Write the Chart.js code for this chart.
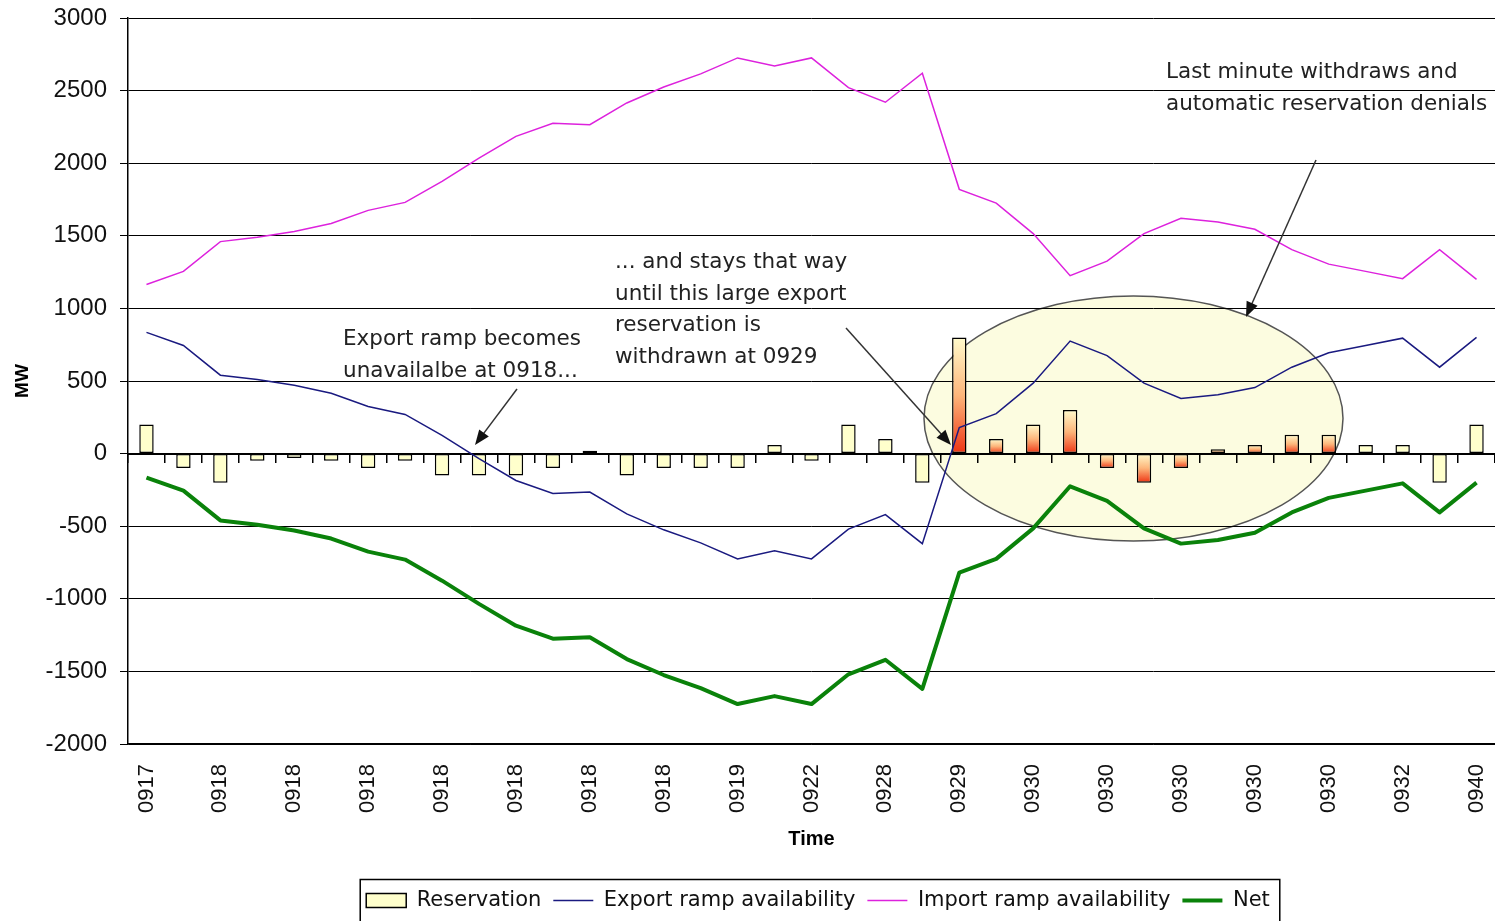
<!DOCTYPE html>
<html><head><meta charset="utf-8">
<script src="https://cdn.jsdelivr.net/npm/chart.js@4"></script>
<style>html,body{margin:0;padding:0;background:#fff;overflow:hidden;}</style>
</head><body>
<canvas id="c" width="1495" height="921"></canvas>
<script>
const LABELS = ['0917','0917','0918','0918','0918','0918','0918','0918','0918','0918','0918','0918','0918','0918','0918','0918','0919','0920','0922','0925','0928','0928','0929','0930','0930','0930','0930','0930','0930','0930','0930','0930','0930','0931','0932','0935','0940'];
const RESERVATION = [200,-100,-200,-50,-30,-50,-100,-50,-150,-150,-150,-100,20,-150,-100,-100,-100,60,-50,200,100,-200,800,100,200,300,-100,-200,-100,30,60,130,130,60,60,-200,200];
const EXPORT_RAMP = [835,745,540,510,470,415,325,270,125,-35,-185,-275,-265,-415,-525,-615,-725,-670,-725,-520,-420,-620,180,275,485,775,675,485,380,405,455,595,695,745,795,595,800];
const IMPORT_RAMP = [1165,1255,1460,1490,1530,1585,1675,1730,1875,2035,2185,2275,2265,2415,2525,2615,2725,2670,2725,2520,2420,2620,1820,1725,1515,1225,1325,1515,1620,1595,1545,1405,1305,1255,1205,1405,1200];
const NET = [-165,-255,-460,-490,-530,-585,-675,-730,-875,-1035,-1185,-1275,-1265,-1415,-1525,-1615,-1725,-1670,-1725,-1520,-1420,-1620,-820,-725,-515,-225,-325,-515,-620,-595,-545,-405,-305,-255,-205,-405,-200];
const Y_TICKS = [-2000,-1500,-1000,-500,0,500,1000,1500,2000,2500,3000];
const HIGHLIGHT = [22,23,24,25,26,27,28,29,30,31,32];

const FONT = "'Liberation Sans', Arial, sans-serif";
const FONT2 = "'DejaVu Sans', Verdana, sans-serif";

function barColor(c) {
  if (c.type !== 'data' || HIGHLIGHT.indexOf(c.dataIndex) < 0) return '#FFFFCC';
  const chart = c.chart, ys = chart.scales && chart.scales.y;
  if (!ys || !chart.chartArea) return '#FFFFCC';
  const p0 = ys.getPixelForValue(0), p1 = ys.getPixelForValue(c.raw);
  const top = Math.min(p0, p1), bot = Math.max(p0, p1);
  const g = chart.ctx.createLinearGradient(0, top, 0, bot + 0.01);
  g.addColorStop(0, '#FFFBCC');
  g.addColorStop(0.5, '#FDB57A');
  g.addColorStop(1, '#EE3414');
  return g;
}

const bgPlugin = {
  id: 'bg',
  beforeDraw(chart) {
    const ctx = chart.ctx;
    ctx.save();
    ctx.fillStyle = '#fff';
    ctx.fillRect(0, 0, chart.width, chart.height);
    ctx.beginPath();
    ctx.ellipse(1133.5, 418.5, 209.5, 122.5, 0, 0, Math.PI * 2);
    ctx.fillStyle = '#FCFCE0';
    ctx.fill();
    ctx.lineWidth = 1.5;
    ctx.strokeStyle = '#555';
    ctx.stroke();
    ctx.restore();
  },
  afterLayout(chart) {
    const lg = chart.legend;
    if (!lg) return;
    const dx = 818 - (lg.left + lg.right) / 2;
    lg.left += dx; lg.right += dx;
  }
};

function arrow(ctx, x1, y1, x2, y2) {
  const a = Math.atan2(y2 - y1, x2 - x1), L = 15, W = 6;
  ctx.beginPath();
  ctx.moveTo(x1, y1);
  ctx.lineTo(x2 - L * 0.8 * Math.cos(a), y2 - L * 0.8 * Math.sin(a));
  ctx.stroke();
  ctx.beginPath();
  ctx.moveTo(x2, y2);
  ctx.lineTo(x2 - L * Math.cos(a) + W * Math.sin(a), y2 - L * Math.sin(a) - W * Math.cos(a));
  ctx.lineTo(x2 - L * Math.cos(a) - W * Math.sin(a), y2 - L * Math.sin(a) + W * Math.cos(a));
  ctx.closePath();
  ctx.fill();
}

const notePlugin = {
  id: 'notes',
  afterDraw(chart) {
    const ctx = chart.ctx;
    ctx.save();
    ctx.font = "21.5px " + FONT2;
    ctx.fillStyle = '#222';
    ctx.textAlign = 'left';
    ctx.textBaseline = 'alphabetic';
    const notes = [
      [343, [345, 377], ['Export ramp becomes', 'unavailalbe at 0918...']],
      [615, [268, 300, 331, 363], ['... and stays that way', 'until this large export', 'reservation is', 'withdrawn at 0929']],
      [1166, [78, 110], ['Last minute withdraws and', 'automatic reservation denials']]
    ];
    notes.forEach(([x, ys, lines]) => lines.forEach((t, k) => ctx.fillText(t, x, ys[k])));
    ctx.strokeStyle = '#333';
    ctx.fillStyle = '#111';
    ctx.lineWidth = 1.5;
    arrow(ctx, 517, 389, 475, 445);
    arrow(ctx, 846, 328, 951, 445);
    arrow(ctx, 1316, 160, 1246, 317);
    // legend frame
    const lg = chart.legend;
    if (lg && lg.legendHitBoxes && lg.legendHitBoxes.length) {
      const hb = lg.legendHitBoxes;
      const x0 = hb[0].left - 6, x1 = hb[hb.length - 1].left + hb[hb.length - 1].width + 10;
      ctx.strokeStyle = '#000';
      ctx.lineWidth = 1.5;
      ctx.strokeRect(x0, lg.top + 1.5, x1 - x0, 60);
    }
    ctx.restore();
  }
};

new Chart(document.getElementById('c'), {
  type: 'bar',
  data: {
    labels: LABELS,
    datasets: [
      { type: 'bar', label: 'Reservation', data: RESERVATION, backgroundColor: barColor, borderColor: '#000', borderWidth: 1.5, borderSkipped: false, barPercentage: 0.39, categoryPercentage: 1, order: 2 },
      { type: 'line', label: 'Export ramp availability', data: EXPORT_RAMP, borderColor: '#1A1A80', borderWidth: 1.5, pointRadius: 0, tension: 0, order: 1 },
      { type: 'line', label: 'Import ramp availability', data: IMPORT_RAMP, borderColor: '#DD22DD', borderWidth: 1.5, pointRadius: 0, tension: 0, order: 1 },
      { type: 'line', label: 'Net', data: NET, borderColor: '#0A820A', borderWidth: 4, borderJoinStyle: 'round', pointRadius: 0, tension: 0, order: 0 }
    ]
  },
  options: {
    responsive: false,
    animation: false,
    devicePixelRatio: 1,
    layout: { padding: { top: 18, left: 0, right: 0, bottom: 0 } },
    scales: {
      x: {
        type: 'category', offset: true,
        grid: { display: false, drawTicks: false },
        border: { display: true, color: '#000', width: 1.5 },
        ticks: { autoSkip: false, maxRotation: 90, minRotation: 90, padding: 20, font: { family: FONT, size: 22 }, color: '#111',
          callback: (v, i) => (i % 2 === 0 ? LABELS[i] : '') },
        title: { display: true, text: 'Time', font: { family: FONT, size: 20, weight: 'bold' }, color: '#000', padding: { top: 0, bottom: 27 } },
        afterFit: s => { s.height = 134; s.paddingLeft = 0; s.paddingRight = 0; }
      },
      x2: {
        type: 'category', axis: 'x', offset: true, position: { y: 0 },
        ticks: { display: false, autoSkip: false },
        grid: { drawOnChartArea: false, drawTicks: true, tickLength: 8, color: '#000', lineWidth: 1.5, offset: true },
        border: { display: true, color: '#000', width: 2 }
      },
      y: {
        min: -2000, max: 3000,
        afterBuildTicks: s => { s.ticks = Y_TICKS.map(v => ({ value: v })); },
        ticks: { font: { family: FONT, size: 24 }, color: '#111', padding: 13, callback: v => String(v) },
        grid: { color: '#000', lineWidth: 1, tickLength: 8 },
        border: { display: true, color: '#000', width: 1.5 },
        title: { display: true, text: 'MW', font: { family: FONT, size: 19, weight: 'bold' }, color: '#000', padding: { top: 11, bottom: 0 } },
        afterFit: s => { s.width = 128; s.paddingTop = 0; s.paddingBottom = 0; }
      }
    },
    plugins: {
      tooltip: { enabled: false },
      legend: {
        position: 'bottom',
        labels: {
          usePointStyle: true, pointStyleWidth: 40, boxHeight: 14, padding: 12,
          font: { family: FONT2, size: 21 }, color: '#111',
          generateLabels: () => [
            { text: 'Reservation', fillStyle: '#FFFFCC', strokeStyle: '#000', lineWidth: 1.5, pointStyle: 'rect', datasetIndex: 0, hidden: false, fontColor: '#111' },
            { text: 'Export ramp availability', fillStyle: '#1A1A80', strokeStyle: '#1A1A80', lineWidth: 1.5, pointStyle: 'line', datasetIndex: 1, hidden: false, fontColor: '#111' },
            { text: 'Import ramp availability', fillStyle: '#DD22DD', strokeStyle: '#DD22DD', lineWidth: 1.5, pointStyle: 'line', datasetIndex: 2, hidden: false, fontColor: '#111' },
            { text: 'Net', fillStyle: '#0A820A', strokeStyle: '#0A820A', lineWidth: 4, pointStyle: 'line', datasetIndex: 3, hidden: false, fontColor: '#111' }
          ]
        }
      }
    }
  },
  plugins: [bgPlugin, notePlugin]
});
</script>
</body></html>
